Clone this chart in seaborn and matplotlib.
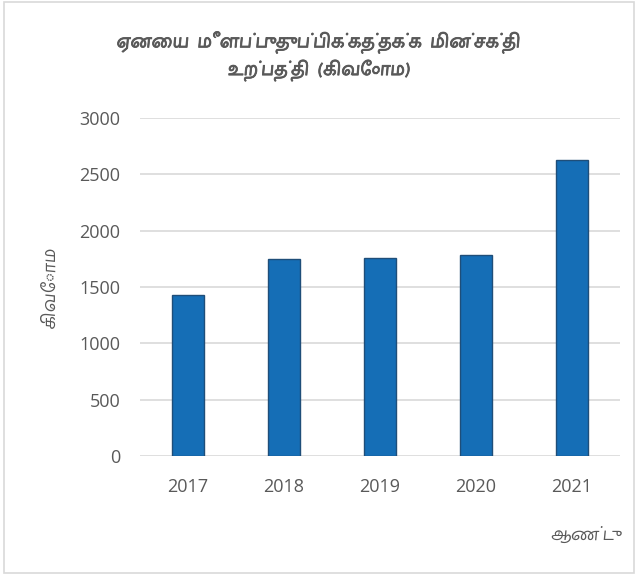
import matplotlib
matplotlib.use("Agg")
import matplotlib.pyplot as plt
import matplotlib.patheffects as pe
from matplotlib import font_manager
from matplotlib.ft2font import FT2Font
from matplotlib.patches import Rectangle
import pandas as pd
import seaborn as sns

# Data
years = ["2017", "2018", "2019", "2020", "2021"]
gwh = [1425, 1749, 1761, 1781, 2622]

title = "ஏனைய  மீளப்புதுப்பிக்கத்தக்க  மின்சக்தி\nஉற்பத்தி  (கிவோம)"
y_label = "கிவோம"
x_label = "ஆண்டு"


def find_tamil_family():
    # installed fonts with Tamil glyphs; prefer a family that also has a bold face
    found = {}
    for entry in font_manager.fontManager.ttflist:
        try:
            cmap = FT2Font(entry.fname).get_charmap()
        except Exception:
            continue
        if 0x0B95 in cmap and 0x0BBF in cmap:
            found.setdefault(entry.name, set()).add(entry.weight)
    if not found:
        return None
    ranked = sorted(found, key=lambda n: ("Tamil" not in n,
                                          not any(w in (600, 700, "bold") for w in found[n]), n))
    return ranked[0]


sns.set_theme(style="white")
tamil = find_tamil_family()
families = ([tamil] if tamil else []) + ["DejaVu Sans"]
plt.rcParams["font.family"] = families

text_grey = "#595959"
df = pd.DataFrame({"year": years, "gwh": gwh})

fig = plt.figure(figsize=(6.38, 5.75), dpi=100)
ax = fig.add_axes([0.219, 0.207, 0.753, 0.588])

sns.barplot(data=df, x="year", y="gwh", color="#156EB6", width=0.33,
            edgecolor="#1F4E79", linewidth=1.0, saturation=1, ax=ax)

ax.set_ylim(0, 3000)
ax.set_yticks(range(0, 3001, 500))
ax.yaxis.grid(True, color="#D9D9D9", linewidth=1.2)
ax.set_axisbelow(True)
for s in ax.spines.values():
    s.set_visible(False)
ax.tick_params(axis="both", length=0, labelsize=13, colors=text_grey)
ax.tick_params(axis="x", pad=16)
ax.tick_params(axis="y", pad=14)
for lbl in ax.get_xticklabels() + ax.get_yticklabels():
    lbl.set_family("Open Sans")

ax.set_xlabel("")
ax.set_ylabel("")
# the title is bold in the reference; a thin stroke thickens it if no bold face exists
fig.text(0.5, 0.902, title, ha="center", va="center", fontsize=14,
         color=text_grey, fontweight="bold", linespacing=1.45,
         path_effects=[pe.withStroke(linewidth=0.6, foreground=text_grey)])
fig.text(0.077, 0.50, y_label, rotation=90, ha="center", va="center",
         fontsize=14, color=text_grey)
fig.text(0.975, 0.070, x_label, ha="right", va="center",
         fontsize=14, color=text_grey)

# light frame round the whole chart area
fig.patches.append(Rectangle((0.006, 0.004), 0.988, 0.992, transform=fig.transFigure,
                             fill=False, edgecolor="#D9D9D9", linewidth=1.2))

fig.savefig("out.png", dpi=100)
plt.close(fig)
